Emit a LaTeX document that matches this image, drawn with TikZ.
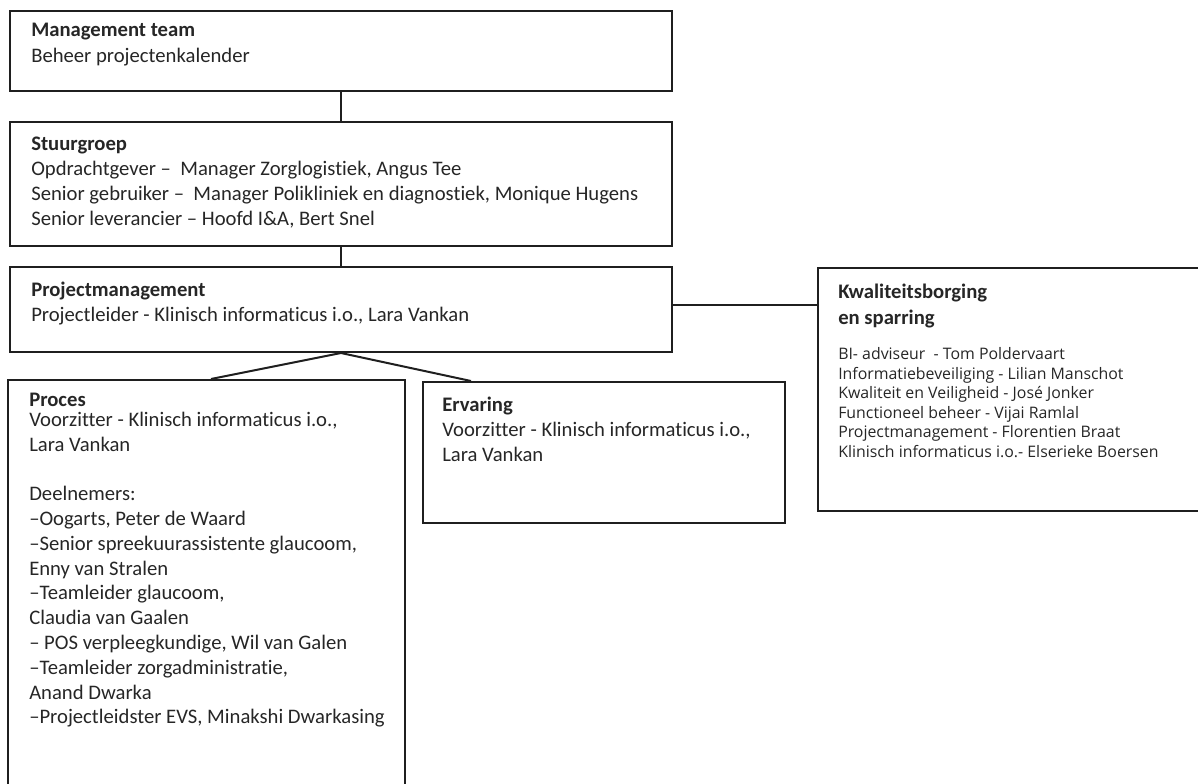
\documentclass[tikz,border=0pt]{standalone}
\usepackage{fontspec}
\setmainfont{Carlito}[Ligatures=CommonOff]
\newfontfamily\kwfont{Open Sans}
\usetikzlibrary{fit}
\begin{document}
\begin{tikzpicture}[x=0.75pt,y=-0.75pt,
  box/.style={draw=black!88, line width=1.5pt, inner sep=0pt},
  link/.style={draw=black!88, line width=1.5pt},
  txt/.style={anchor=north west, inner sep=0pt, align=left,
    font=\fontsize{15.5}{18.6}\selectfont, text=black!85},
  kwhead/.style={anchor=north west, inner sep=0pt, align=left,
    font=\bfseries\fontsize{15.5}{19.5}\selectfont, text=black!85},
  kwtxt/.style={anchor=north west, inner sep=0pt, align=left,
    font=\kwfont\fontsize{11.9}{14.6}\selectfont, text=black!85}
]
\useasboundingbox (0,0) rectangle (1198,783);
\clip (0,0) rectangle (1198,783);

% organisation boxes
\node[box, fit={(10,11) (672,91)}] (mt) {};
\node[box, fit={(10,122) (672,246)}] (sg) {};
\node[box, fit={(10,267) (672,352)}] (pm) {};
\node[box, fit={(818,268) (1215,511)}] (kw) {};
\node[box, fit={(8,380) (405,800)}] (pr) {};
\node[box, fit={(423,382) (785,523)}] (er) {};

% connectors
\draw[link] (mt.south) -- (sg.north);
\draw[link] (sg.south) -- (pm.north);
\draw[link] ([yshift=3.4pt]pm.east) -- ([yshift=3.4pt]pm.east -| kw.west);
\draw[link] (pm.south) -- ([xshift=153pt]pr.north west);
\draw[link] (pm.south) -- ([xshift=36.75pt]er.north west);

% box contents
\node[txt] (mtt) at (31,19) {\strut\textbf{Management team}\\[0.8pt]
  Beheer projectenkalender};
\node[txt] (sgt) at (31,133) {\strut\textbf{Stuurgroep}\\
  Opdrachtgever –\ \ Manager Zorglogistiek, Angus Tee\\
  Senior gebruiker –\ \ Manager Polikliniek en diagnostiek, Monique Hugens\\
  Senior leverancier – Hoofd I\&A, Bert Snel};
\node[txt] (pmt) at (31,279) {\strut\textbf{Projectmanagement}\\
  Projectleider - Klinisch informaticus i.o., Lara Vankan};
\node[txt] (prt) at (29,389) {\strut\textbf{Proces}\\[-3.8pt]
  Voorzitter - Klinisch informaticus i.o.,\\
  Lara Vankan\\
  ~\\
  Deelnemers:\\
  –Oogarts, Peter de Waard\\
  –Senior spreekuurassistente glaucoom,\\
  Enny van Stralen\\
  –Teamleider glaucoom,\\
  Claudia van Gaalen\\
  – POS verpleegkundige, Wil van Galen\\
  –Teamleider zorgadministratie,\\
  Anand Dwarka\\
  –Projectleidster EVS, Minakshi Dwarkasing};
\node[txt] (ert) at (442,394) {\strut\textbf{Ervaring}\\
  Voorzitter - Klinisch informaticus i.o.,\\
  Lara Vankan};
\node[kwhead] (kwh) at (838,280) {\strut Kwaliteitsborging\\en sparring};
\node[kwtxt] (kwb) at (838,346) {\strut BI- adviseur\ \ - Tom Poldervaart\\
  Informatiebeveiliging - Lilian Manschot\\
  Kwaliteit en Veiligheid - José Jonker\\
  Functioneel beheer - Vijai Ramlal\\
  Projectmanagement - Florentien Braat\\
  Klinisch informaticus i.o.- Elserieke Boersen};
\end{tikzpicture}
\end{document}
